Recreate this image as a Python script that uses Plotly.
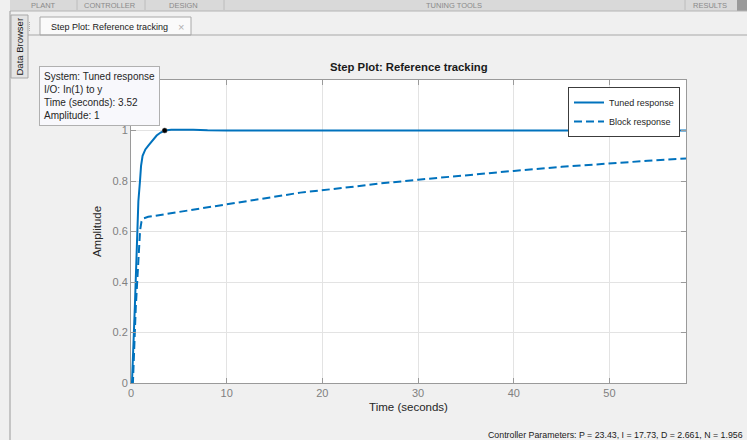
import plotly.graph_objects as go

# Closed-loop step responses (reference tracking)
t_tuned = [0, 0.1, 0.4, 0.77, 0.94, 1.05, 1.21, 1.5, 1.81, 2.2, 2.68, 3.1, 3.52,
           4.2, 5.1, 6.5, 8, 10, 20, 30, 40, 50, 58]
y_tuned = [0, 0.0, 0.30, 0.72, 0.80, 0.86, 0.90, 0.925, 0.94, 0.96, 0.98, 0.992, 1.0,
           1.003, 1.004, 1.003, 1.001, 1.0, 1.0, 1.0, 1.0, 1.0, 1.0]

t_block = [0, 0.2, 0.5, 0.8, 0.95, 1.1, 1.3, 1.8, 2.3, 4, 6, 8, 10, 14, 17.7, 22,
           26, 30, 35, 40, 45, 50, 54, 58]
y_block = [0, 0.0, 0.30, 0.50, 0.605, 0.64, 0.652, 0.658, 0.661, 0.672, 0.684,
           0.696, 0.707, 0.731, 0.754, 0.772, 0.79, 0.805, 0.823, 0.84, 0.856,
           0.87, 0.88, 0.889]

series_names = ["Tuned response", "Block response"]

# Data cursor
cursor_time = 3.52
cursor_amp = 1

x_ticks = [0, 10, 20, 30, 40, 50]
y_ticks = [0, 0.2, 0.4, 0.6, 0.8, 1.0]

controller = {"P": "23.43", "I": "17.73", "D": "2.661", "N": "1.956"}

W, H = 747, 440
PL, PR, PT, PB = 131, 686, 80, 383   # plot-area edges in pixels
BLUE = "#0072BD"
FONT = "Liberation Sans, Arial, sans-serif"


def px(x):
    """Pixel column -> paper x."""
    return (x - PL) / (PR - PL)


def py(y):
    """Pixel row -> paper y."""
    return (PB - y) / (PB - PT)


fig = go.Figure()
fig.add_trace(go.Scatter(x=t_tuned, y=y_tuned, mode="lines", name=series_names[0],
                         line=dict(color=BLUE, width=2)))
fig.add_trace(go.Scatter(x=t_block, y=y_block, mode="lines", name=series_names[1],
                         line=dict(color=BLUE, width=2, dash="8px,4px")))
fig.add_trace(go.Scatter(x=[cursor_time], y=[cursor_amp], mode="markers",
                         showlegend=False,
                         marker=dict(color="black", size=5,
                                     line=dict(color="#606060", width=0.5))))

axis_common = dict(showline=True, linecolor="#9a9a9a", linewidth=1, mirror="ticks",
                   ticks="inside", ticklen=5, tickcolor="#9a9a9a", automargin=False,
                   showgrid=True, gridcolor="#e3e3e3", gridwidth=1, zeroline=False,
                   tickfont=dict(family=FONT, size=11, color="#808080"))

fig.update_layout(
    width=W, height=H,
    margin=dict(l=PL, r=W - PR, t=PT, b=H - PB, pad=0),
    paper_bgcolor="#f0f0f0",
    plot_bgcolor="white",
    showlegend=True,
    font=dict(family=FONT),
    xaxis=dict(range=[0, 58], tickvals=x_ticks,
               title=dict(text="Time (seconds)", font=dict(size=11.5, color="#262626"),
                          standoff=4),
               **axis_common),
    yaxis=dict(range=[0, 1.2], tickvals=y_ticks,
               title=dict(text="Amplitude", font=dict(size=11.5, color="#262626"),
                          standoff=8),
               **axis_common),
    legend=dict(x=px(680), y=py(87), xanchor="right", yanchor="top",
                bgcolor="white", bordercolor="#3c3c3c", borderwidth=1,
                font=dict(family=FONT, size=9, color="#262626"),
                itemwidth=30, tracegroupgap=0),
)

shapes = []
annotations = []


def rect(x0, y0, x1, y1, fill, line=None):
    shapes.append(dict(type="rect", xref="paper", yref="paper", x0=px(x0), x1=px(x1),
                       y0=py(y1), y1=py(y0), fillcolor=fill,
                       line=line or dict(width=0), layer="below"))


def hline(x0, x1, y, color):
    shapes.append(dict(type="line", xref="paper", yref="paper", x0=px(x0), x1=px(x1),
                       y0=py(y), y1=py(y), line=dict(color=color, width=1)))


def vline(x, y0, y1, color):
    shapes.append(dict(type="line", xref="paper", yref="paper", x0=px(x), x1=px(x),
                       y0=py(y1), y1=py(y0), line=dict(color=color, width=1)))


def label(text, x, y, size, color, xanchor="left", **kw):
    annotations.append(dict(text=text, xref="paper", yref="paper", x=px(x), y=py(y),
                            xanchor=xanchor, yanchor="middle", showarrow=False,
                            font=dict(family=FONT, size=size, color=color), **kw))


# Toolstrip band at the top
rect(10, 0, W, 11, "#d9d9d9")
hline(10, W, 11, "#b4b4b4")
for sx in [77, 145, 224, 685]:
    vline(sx, 0, 10, "#bcbcbc")
for text, cx in [("PLANT", 43), ("CONTROLLER", 110), ("DESIGN", 183),
                 ("TUNING TOOLS", 454), ("RESULTS", 710)]:
    label(text, cx, 5.5, 7.5, "#8a8a8a", xanchor="center")
rect(737, 0, W, 11, "#9a9a9a")

# Left panel border
vline(10, 11, H, "#9a9a9a")

# Document tab row
hline(28, W, 35, "#a8a8a8")
rect(40, 17, 191, 35, "#fafafa", dict(color="#a8a8a8", width=1))
label("Step Plot: Reference tracking", 49, 27, 9, "#202020")
label("×", 181, 27, 11, "#b0b0b0", xanchor="center")
for gy in range(22, 32, 2):
    rect(29, gy, 30, gy + 1, "#b0b0b0")

# "Data Browser" side tab
rect(11, 15, 28, 78, "#e4e4e4", dict(color="#a8a8a8", width=1))
label("Data Browser", 19.5, 47, 9.5, "#202020", xanchor="center", textangle=-90)

# Title
label("<b>Step Plot: Reference tracking</b>", (PL + PR) / 2, 67, 11.3, "#1a1a1a",
      xanchor="center")

# Data cursor tooltip
tip_lines = [f"System: {series_names[0]}", "I/O: In(1) to y",
             f"Time (seconds): {cursor_time}", f"Amplitude: {cursor_amp}"]
annotations.append(dict(text="<br>".join(tip_lines), xref="paper", yref="paper",
                        x=px(39), y=py(66), xanchor="left", yanchor="top",
                        align="left", showarrow=False, bgcolor="#f8f8fc",
                        bordercolor="#b0b0b0", borderwidth=1, borderpad=4,
                        font=dict(family=FONT, size=10, color="#262626")))

# Status bar text
params = ", ".join(f"{k} = {v}" for k, v in controller.items())
label(f"Controller Parameters: {params}", 745, 435, 8.8, "#202020", xanchor="right")

fig.update_layout(shapes=shapes, annotations=annotations)
fig.write_html("out.html")
